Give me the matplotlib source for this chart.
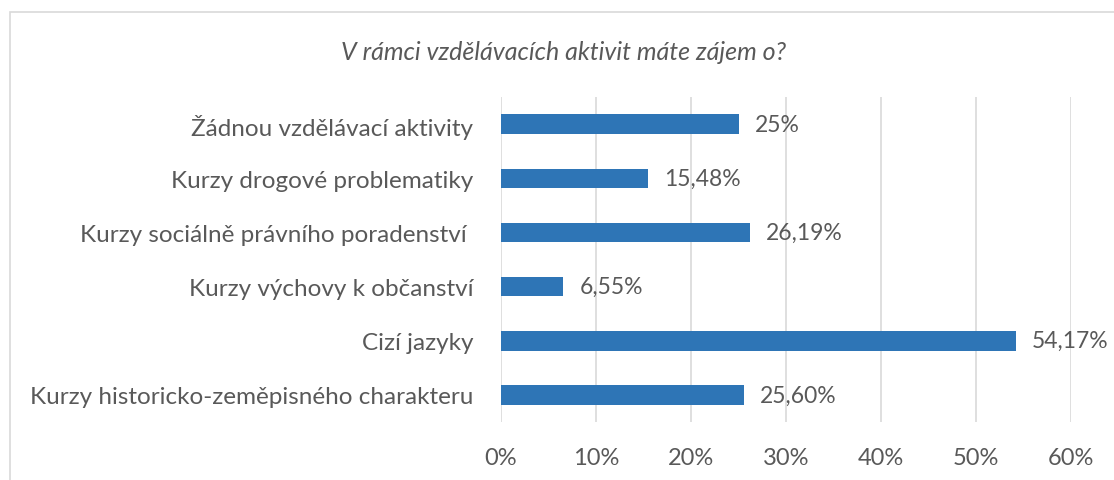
import matplotlib.pyplot as plt
from matplotlib.patches import Rectangle

# data, top to bottom as in the chart
categories = [
    "Žádnou vzdělávací aktivity",
    "Kurzy drogové problematiky",
    "Kurzy sociálně právního poradenství ",
    "Kurzy výchovy k občanství",
    "Cizí jazyky",
    "Kurzy historicko-zeměpisného charakteru",
]
values = [25.0, 15.48, 26.19, 6.55, 54.17, 25.60]
value_labels = ["25%", "15,48%", "26,19%", "6,55%", "54,17%", "25,60%"]
xticks = [0, 10, 20, 30, 40, 50, 60]
xtick_labels = ["0%", "10%", "20%", "30%", "40%", "50%", "60%"]

TEXT = "#595959"
BAR = "#2E75B6"
GRID = "#D9D9D9"

plt.rcParams["font.family"] = ["Lato", "DejaVu Sans"]

W, H = 1114, 481
fig = plt.figure(figsize=(W / 100, H / 100), dpi=100)

# chart frame (runs off right and bottom edges)
fig.patches.append(Rectangle((10 / W, -0.1), 1.2, 1 - 13 / H + 0.1,
                             transform=fig.transFigure, fill=False,
                             edgecolor=GRID, linewidth=1.2))

ax = fig.add_axes([501 / W, 1 - 423 / H, (1071 - 501) / W, (423 - 98) / H])

y = list(range(len(categories)))
ax.barh(y, values, height=0.36, color=BAR, zorder=3)
ax.set_ylim(len(categories) - 0.5, -0.5)
ax.set_xlim(0, 60)

for yi, v, lab in zip(y, values, value_labels):
    ax.text(v + 1.7, yi, lab, va="center", ha="left", fontsize=16.5, color=TEXT)

ax.set_yticks(y)
ax.set_yticklabels(categories, fontsize=17.5, color=TEXT)
ax.set_xticks(xticks)
ax.set_xticklabels(xtick_labels, fontsize=17, color=TEXT)
ax.tick_params(axis="both", length=0)
ax.tick_params(axis="x", pad=18)
ax.tick_params(axis="y", pad=20)

ax.grid(axis="x", color=GRID, linewidth=1.2, zorder=0)
for s in ax.spines.values():
    s.set_visible(False)

fig.text(564 / W, 1 - 52 / H, "V rámci vzdělávacích aktivit máte zájem o?",
         ha="center", va="center", fontsize=18, style="italic", color=TEXT)

fig.savefig("out.png", dpi=100)
